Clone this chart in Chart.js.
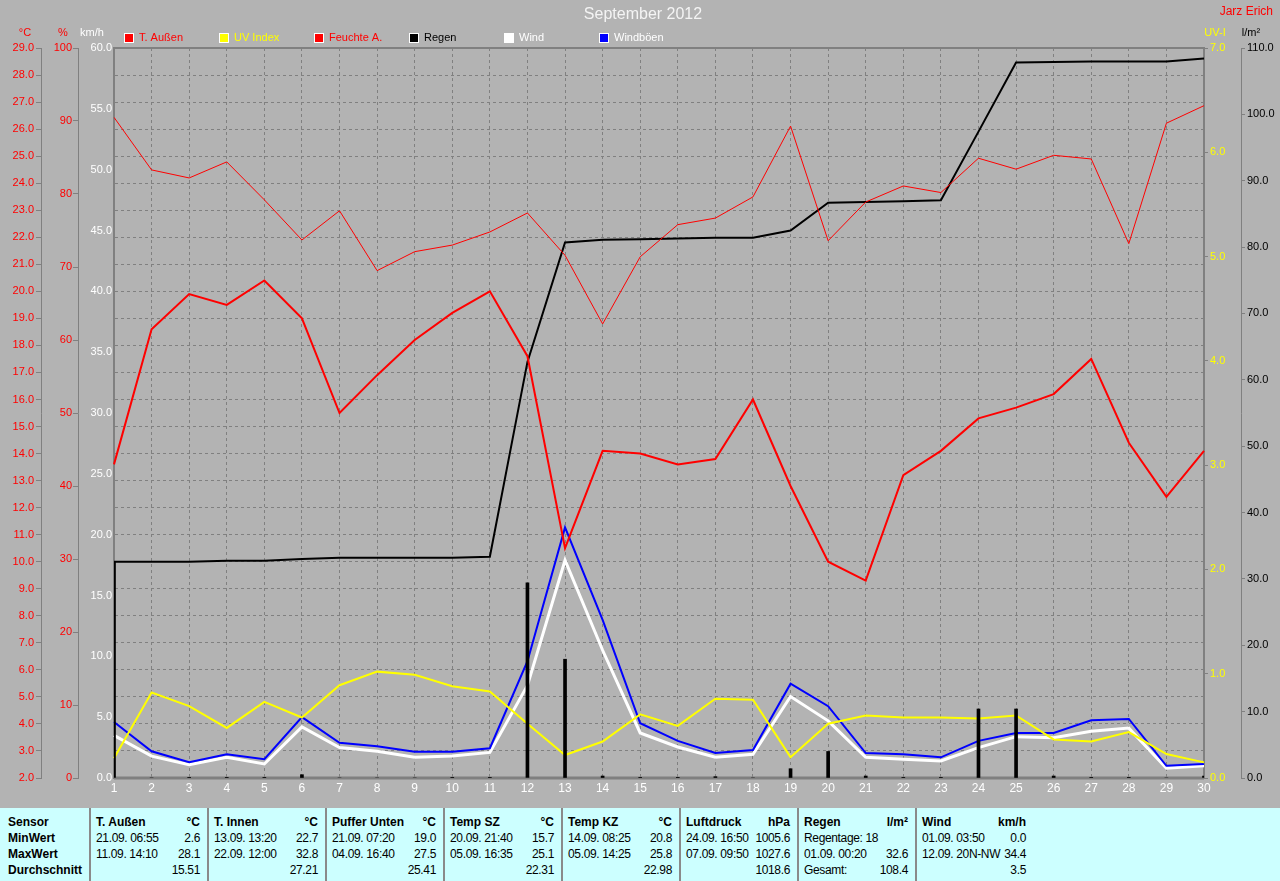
<!DOCTYPE html>
<html>
<head>
<meta charset="utf-8">
<title>September 2012</title>
<script src="https://cdn.jsdelivr.net/npm/chart.js@4.4.0/dist/chart.umd.min.js"></script>
<style>
  html, body { margin: 0; padding: 0; background: #b3b3b3; overflow: hidden; }
  #wrap { width: 1280px; height: 808px; }
  #stats { position: relative; width: 1280px; height: 73px; background: #ccffff;
           font-family: "Liberation Sans", Arial, sans-serif; font-size: 12px; color: #000; }
  .col { position: absolute; top: 0; height: 73px; box-sizing: border-box; padding: 6px 7px 0 5px; }
  .col.sep { border-left: 2px solid #8a8a8a; }
  .row { display: flex; justify-content: space-between; gap: 4px; height: 16px; line-height: 16px;
         white-space: pre; letter-spacing: -0.35px; }
  .row.h { font-weight: bold; letter-spacing: 0; }
  .first .row { font-weight: bold; letter-spacing: 0; }
</style>
</head>
<body>
<div id="wrap"><canvas id="chart" width="1280" height="808"></canvas></div>
<div id="stats">
  <div class="col first" style="left:0;width:89px;padding-left:8px">
    <div class="row"><span>Sensor</span></div>
    <div class="row"><span>MinWert</span></div>
    <div class="row"><span>MaxWert</span></div>
    <div class="row"><span>Durchschnitt</span></div>
  </div>
  <div class="col sep" style="left:89px;width:118px">
    <div class="row h"><span>T. Außen</span><span>°C</span></div>
    <div class="row"><span>21.09. 06:55</span><span>2.6</span></div>
    <div class="row"><span>11.09. 14:10</span><span>28.1</span></div>
    <div class="row"><span></span><span>15.51</span></div>
  </div>
  <div class="col sep" style="left:207px;width:118px">
    <div class="row h"><span>T. Innen</span><span>°C</span></div>
    <div class="row"><span>13.09. 13:20</span><span>22.7</span></div>
    <div class="row"><span>22.09. 12:00</span><span>32.8</span></div>
    <div class="row"><span></span><span>27.21</span></div>
  </div>
  <div class="col sep" style="left:325px;width:118px">
    <div class="row h"><span>Puffer Unten</span><span>°C</span></div>
    <div class="row"><span>21.09. 07:20</span><span>19.0</span></div>
    <div class="row"><span>04.09. 16:40</span><span>27.5</span></div>
    <div class="row"><span></span><span>25.41</span></div>
  </div>
  <div class="col sep" style="left:443px;width:118px">
    <div class="row h"><span>Temp SZ</span><span>°C</span></div>
    <div class="row"><span>20.09. 21:40</span><span>15.7</span></div>
    <div class="row"><span>05.09. 16:35</span><span>25.1</span></div>
    <div class="row"><span></span><span>22.31</span></div>
  </div>
  <div class="col sep" style="left:561px;width:118px">
    <div class="row h"><span>Temp KZ</span><span>°C</span></div>
    <div class="row"><span>14.09. 08:25</span><span>20.8</span></div>
    <div class="row"><span>05.09. 14:25</span><span>25.8</span></div>
    <div class="row"><span></span><span>22.98</span></div>
  </div>
  <div class="col sep" style="left:679px;width:118px">
    <div class="row h"><span>Luftdruck</span><span>hPa</span></div>
    <div class="row"><span>24.09. 16:50</span><span>1005.6</span></div>
    <div class="row"><span>07.09. 09:50</span><span>1027.6</span></div>
    <div class="row"><span></span><span>1018.6</span></div>
  </div>
  <div class="col sep" style="left:797px;width:118px">
    <div class="row h"><span>Regen</span><span>l/m²</span></div>
    <div class="row"><span>Regentage: 18</span><span></span></div>
    <div class="row"><span>01.09. 00:20</span><span>32.6</span></div>
    <div class="row"><span>Gesamt:</span><span>108.4</span></div>
  </div>
  <div class="col sep" style="left:915px;width:118px">
    <div class="row h"><span>Wind</span><span>km/h</span></div>
    <div class="row"><span>01.09. 03:50</span><span>0.0</span></div>
    <div class="row"><span>12.09. 20N-NW</span><span>34.4</span></div>
    <div class="row"><span></span><span>3.5</span></div>
  </div>
</div>
<script>
// Tageswerte September 2012
const days = ["1","2","3","4","5","6","7","8","9","10","11","12","13","14","15",
              "16","17","18","19","20","21","22","23","24","25","26","27","28","29","30"];

const tempOut = [13.6, 18.6, 19.9, 19.5, 20.4, 19.0, 15.5, 16.9, 18.2, 19.2,
                 20.0, 17.6, 10.5, 14.1, 14.0, 13.6, 13.8, 16.0, 12.8, 10.0,
                 9.3, 13.2, 14.1, 15.3, 15.7, 16.2, 17.5, 14.4, 12.4, 14.1];

const humidity = [90.5, 83.3, 82.2, 84.4, 79.2, 73.7, 77.7, 69.5, 72.1, 73.0,
                  74.8, 77.4, 71.6, 62.2, 71.4, 75.8, 76.7, 79.6, 89.3, 73.6,
                  78.9, 81.1, 80.2, 84.9, 83.4, 85.3, 84.8, 73.2, 89.7, 92.1];

const uvIndex = [0.19, 0.82, 0.69, 0.48, 0.73, 0.58, 0.89, 1.02, 0.99, 0.88,
                 0.83, 0.52, 0.22, 0.35, 0.61, 0.50, 0.76, 0.75, 0.20, 0.52,
                 0.60, 0.58, 0.58, 0.57, 0.60, 0.37, 0.35, 0.44, 0.23, 0.15];

const rainTotal = [32.6, 32.6, 32.6, 32.75, 32.75, 33.0, 33.2, 33.2, 33.2, 33.2,
                   33.35, 62.7, 80.7, 81.1, 81.2, 81.3, 81.4, 81.4, 82.5, 86.7,
                   86.8, 86.9, 87.05, 97.4, 107.8, 107.9, 107.95, 107.95, 107.95, 108.4];

const rainDay = [32.6, 0, 0.1, 0.1, 0.1, 0.5, 0, 0, 0, 0.1,
                 0.1, 29.4, 17.9, 0.3, 0.1, 0.1, 0.2, 0, 1.4, 4.0,
                 0.3, 0.1, 0.1, 10.4, 10.4, 0.3, 0.1, 0.1, 0, 0.3];

const wind = [3.5, 1.8, 1.1, 1.7, 1.15, 4.2, 2.5, 2.2, 1.7, 1.8,
              2.1, 7.6, 17.9, 10.5, 3.7, 2.55, 1.7, 1.95, 6.7, 4.7,
              1.7, 1.55, 1.4, 2.5, 3.4, 3.3, 3.85, 4.1, 0.8, 1.0];

const gusts = [4.6, 2.2, 1.3, 1.95, 1.55, 5.0, 2.9, 2.6, 2.15, 2.15,
               2.45, 9.6, 20.6, 13.0, 4.5, 3.05, 2.05, 2.3, 7.75, 5.9,
               2.05, 1.95, 1.7, 3.05, 3.7, 3.7, 4.75, 4.85, 1.0, 1.15];

const legendItems = [
    { text: "T. Außen",   box: "#ff0000", color: "#ff0000" },
    { text: "UV Index",   box: "#ffff00", color: "#ffff00" },
    { text: "Feuchte A.", box: "#ff0000", color: "#ff0000" },
    { text: "Regen",      box: "#000000", color: "#000000" },
    { text: "Wind",       box: "#ffffff", color: "#ffffff" },
    { text: "Windböen",   box: "#0000ff", color: "#ffffff" }
];

const FONT = "Liberation Sans, Arial, sans-serif";
const GRID = "#808080";

// Titel, Legende, Einheiten und Rahmen
const decor = {
    id: "decor",
    beforeDraw(chart) {
        const ctx = chart.ctx;
        ctx.save();
        ctx.fillStyle = "#b3b3b3";
        ctx.fillRect(0, 0, chart.width, chart.height);
        ctx.restore();
    },
    beforeDatasetsDraw(chart) {
        const ctx = chart.ctx;
        const a = chart.chartArea;
        ctx.save();
        ctx.strokeStyle = GRID;
        ctx.lineWidth = 2;
        ctx.strokeRect(a.left, a.top, a.right - a.left, a.bottom - a.top);
        ctx.lineWidth = 3;
        ctx.beginPath();
        ctx.moveTo(a.left, a.bottom);
        ctx.lineTo(a.right, a.bottom);
        ctx.stroke();
        ctx.restore();
    },
    afterDraw(chart) {
        const ctx = chart.ctx;
        ctx.save();
        ctx.textBaseline = "middle";

        ctx.font = "16px " + FONT;
        ctx.fillStyle = "#f4f4f4";
        ctx.textAlign = "center";
        ctx.fillText("September 2012", 643, 15);

        ctx.font = "12px " + FONT;
        ctx.fillStyle = "#ff0000";
        ctx.textAlign = "right";
        ctx.fillText("Jarz Erich", 1273, 12);

        ctx.font = "11px " + FONT;
        ctx.textAlign = "center";
        const units = [["°C", 25, "#ff0000"], ["%", 63, "#ff0000"], ["km/h", 92, "#ffffff"],
                       ["UV-I", 1215, "#ffff00"], ["l/m²", 1251, "#000000"]];
        units.forEach(u => {
            ctx.fillStyle = u[2];
            ctx.fillText(u[0], u[1], 33);
        });

        ctx.textAlign = "left";
        legendItems.forEach((item, i) => {
            const x = 124 + i * 95;
            ctx.fillStyle = "#ffffff";
            ctx.fillRect(x, 33, 10, 10);
            ctx.fillStyle = item.box;
            ctx.fillRect(x + 1, 34, 8, 8);
            ctx.fillStyle = item.color;
            ctx.fillText(item.text, x + 15, 38);
        });
        ctx.restore();
    }
};

function yAxis(opts) {
    const s = {
        type: "linear",
        position: opts.position,
        weight: opts.weight,
        min: opts.min,
        max: opts.max,
        grid: {
            display: true,
            drawOnChartArea: !!opts.onArea,
            drawTicks: opts.tick > 0,
            tickLength: opts.tick || 0,
            color: GRID,
            tickColor: GRID
        },
        border: { display: !!opts.border, color: GRID, width: 1, dash: opts.onArea ? [3, 3] : [] },
        ticks: {
            stepSize: opts.step,
            autoSkip: false,
            color: opts.color,
            padding: opts.pad,
            font: { family: FONT, size: 11 },
            callback: v => opts.dec ? v.toFixed(1) : String(v)
        },
        afterFit: scale => {
            scale.width = opts.width;
            scale.paddingTop = 0;
            scale.paddingBottom = 0;
        }
    };
    return s;
}

new Chart(document.getElementById("chart"), {
    type: "line",
    data: {
        labels: days,
        datasets: [
            { type: "bar", label: "Regen Tag", data: rainDay, yAxisID: "yRain",
              backgroundColor: "#000000", barThickness: 3, order: 0 },
            { label: "T. Außen", data: tempOut, yAxisID: "yTemp",
              borderColor: "#ff0000", borderWidth: 2, order: 1 },
            { label: "Feuchte A.", data: humidity, yAxisID: "yHum",
              borderColor: "#ff0000", borderWidth: 1, order: 2 },
            { label: "Regen", data: rainTotal, yAxisID: "yRain",
              borderColor: "#000000", borderWidth: 2, order: 3 },
            { label: "UV Index", data: uvIndex, yAxisID: "yUV",
              borderColor: "#ffff00", borderWidth: 2, order: 4 },
            { label: "Windböen", data: gusts, yAxisID: "yWind",
              borderColor: "#0000ff", borderWidth: 2, order: 5 },
            { label: "Wind", data: wind, yAxisID: "yWind",
              borderColor: "#ffffff", borderWidth: 3, order: 6 }
        ]
    },
    options: {
        responsive: false,
        animation: false,
        devicePixelRatio: 1,
        layout: { padding: { top: 48, left: 0, right: 0, bottom: 0 } },
        elements: {
            point: { radius: 0, hoverRadius: 0 },
            line: { tension: 0, borderJoinStyle: "miter" }
        },
        plugins: {
            legend: { display: false },
            title: { display: false },
            tooltip: { enabled: false }
        },
        scales: {
            x: {
                type: "category",
                offset: false,
                grid: { offset: false, color: GRID, drawTicks: false },
                border: { display: false, dash: [3, 3] },
                ticks: {
                    color: "#ffffff", autoSkip: false, maxRotation: 0, padding: 3,
                    font: { family: FONT, size: 12 }
                },
                afterFit: scale => {
                    scale.height = 30;
                    scale.paddingLeft = 0;
                    scale.paddingRight = 0;
                }
            },
            yTemp: yAxis({ position: "left", weight: 2, min: 2, max: 29, step: 1, dec: true,
                           color: "#ff0000", width: 41, tick: 5, pad: 2, border: true, onArea: true }),
            yHum: yAxis({ position: "left", weight: 1, min: 0, max: 100, step: 10, dec: false,
                          color: "#ff0000", width: 37, tick: 5, pad: 1, border: true }),
            yWind: yAxis({ position: "left", weight: 0, min: 0, max: 60, step: 5, dec: true,
                           color: "#ffffff", width: 36, tick: 0, pad: 2, border: false }),
            yUV: yAxis({ position: "right", weight: 0, min: 0, max: 7, step: 1, dec: true,
                         color: "#ffff00", width: 37, tick: 4, pad: 2, border: false }),
            yRain: yAxis({ position: "right", weight: 1, min: 0, max: 110, step: 10, dec: true,
                           color: "#000000", width: 39, tick: 4, pad: 2, border: true })
        }
    },
    plugins: [decor]
});
</script>
</body>
</html>
